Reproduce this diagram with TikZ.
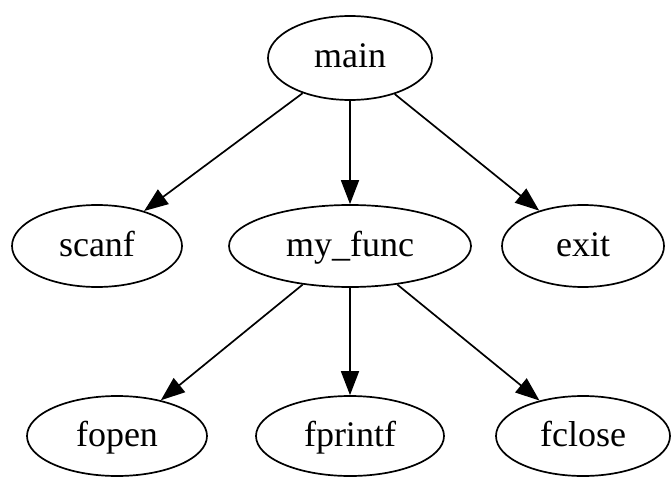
\documentclass[tikz,border=0pt]{standalone}
\usepackage{fontspec}
\setmainfont{Liberation Serif}
\usetikzlibrary{shapes.geometric,arrows.meta}
\begin{document}
\begin{tikzpicture}[x=1pt,y=-1pt,
  fn/.style={ellipse,draw,line width=1.7pt,inner sep=0pt,text height=26pt,text depth=6pt,font=\fontsize{36}{40}\selectfont},
  call/.style={line width=1.7pt,-{Triangle[length=24pt,width=18pt]}}]
\useasboundingbox (0,0) rectangle (671,489);
\node[fn,minimum width=164pt,minimum height=84pt] (main) at (350,58) {main};
\node[fn,minimum width=170pt,minimum height=82pt] (scanf) at (97,246) {scanf};
\node[fn,minimum width=242pt,minimum height=82pt] (myfunc) at (350,246) {my\_func};
\node[fn,minimum width=162pt,minimum height=82pt] (exit) at (583,246) {exit};
\node[fn,minimum width=180pt,minimum height=80pt] (fopen) at (117,436) {fopen};
\node[fn,minimum width=188pt,minimum height=80pt] (fprintf) at (350,436) {fprintf};
\node[fn,minimum width=174pt,minimum height=80pt] (fclose) at (583,436) {fclose};
\draw[call] (main) -- (scanf);
\draw[call] (main) -- (myfunc);
\draw[call] (main) -- (exit);
\draw[call] (myfunc) -- (fopen);
\draw[call] (myfunc) -- (fprintf);
\draw[call] (myfunc) -- (fclose);
\end{tikzpicture}
\end{document}
